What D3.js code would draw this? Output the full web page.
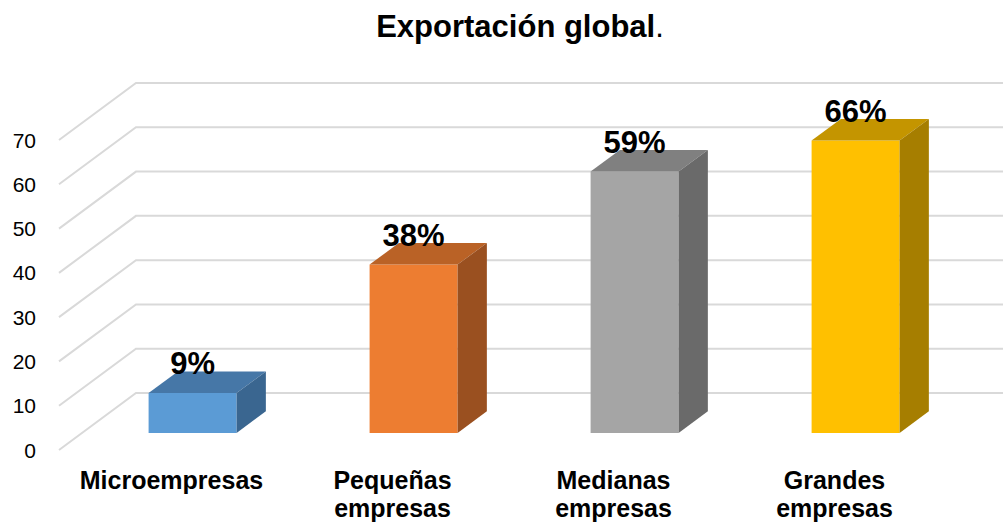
<!DOCTYPE html>
<html>
<head>
<meta charset="utf-8">
<script src="https://cdn.jsdelivr.net/npm/d3@7"></script>
<style>
  body { margin: 0; background: #fff; }
  svg { display: block; font-family: "Liberation Sans", Arial, sans-serif; }
</style>
</head>
<body>
<svg id="chart" width="1003" height="523"></svg>
<script>
const categories = [["Microempresas"], ["Pequeñas", "empresas"], ["Medianas", "empresas"], ["Grandes", "empresas"]];
const values = [9, 38, 59, 66];
const valueLabels = ["9%", "38%", "59%", "66%"];
const yTicks = [0, 10, 20, 30, 40, 50, 60, 70];
const frontColors = ["#5B9BD5", "#ED7D31", "#A5A5A5", "#FFC000"];
const topColors = ["#4677A7", "#BA6226", "#808080", "#C49500"];
const sideColors = ["#3A6690", "#9A5020", "#6A6A6A", "#A67E00"];

const svg = d3.select("#chart");
const width = 1003;

// depth direction of the 3D box
const depth = { dx: 77, dy: -57 };
const barFront = 0.3, barBack = 0.68;

const x = d3.scaleBand()
  .domain(d3.range(values.length))
  .range([59, 943])
  .paddingInner(0)
  .paddingOuter(0);

const y = d3.scaleLinear()
  .domain([0, 70])
  .range([450, 140]);

const proj = (px, v, t) => [px + depth.dx * t, y(v) + depth.dy * t];

// gridlines: diagonal on the left wall plus back wall line
const grid = svg.append("g")
  .attr("stroke", "#d9d9d9")
  .attr("stroke-width", 2)
  .attr("fill", "none");

grid.selectAll("path")
  .data(yTicks)
  .enter()
  .append("path")
  .attr("d", v => {
    const a = proj(x.range()[0], v, 0);
    const b = proj(x.range()[0], v, 1);
    return `M${a[0]},${a[1]}L${b[0]},${b[1]}L${width},${b[1]}`;
  });

svg.append("g")
  .selectAll("text")
  .data(yTicks)
  .enter()
  .append("text")
  .attr("x", 36)
  .attr("y", v => y(v))
  .attr("dy", "0.36em")
  .attr("text-anchor", "end")
  .attr("font-size", "21px")
  .attr("fill", "#000")
  .text(v => v);

const barW = 88;

const bars = svg.append("g")
  .selectAll("g")
  .data(values)
  .enter()
  .append("g");

const corners = (v, i) => {
  const left = x(i) + x.bandwidth() / 2 - barW / 2;
  const right = left + barW;
  return {
    fl0: proj(left, 0, barFront), fr0: proj(right, 0, barFront),
    flv: proj(left, v, barFront), frv: proj(right, v, barFront),
    blv: proj(left, v, barBack), brv: proj(right, v, barBack),
    br0: proj(right, 0, barBack)
  };
};

const poly = pts => "M" + pts.map(p => p.join(",")).join("L") + "Z";

bars.append("path")
  .attr("d", (v, i) => { const c = corners(v, i); return poly([c.fl0, c.fr0, c.frv, c.flv]); })
  .attr("fill", (v, i) => frontColors[i]);

bars.append("path")
  .attr("d", (v, i) => { const c = corners(v, i); return poly([c.flv, c.frv, c.brv, c.blv]); })
  .attr("fill", (v, i) => topColors[i]);

bars.append("path")
  .attr("d", (v, i) => { const c = corners(v, i); return poly([c.fr0, c.br0, c.brv, c.frv]); })
  .attr("fill", (v, i) => sideColors[i]);

bars.append("text")
  .attr("x", (v, i) => proj(x(i) + x.bandwidth() / 2, v, barFront)[0])
  .attr("y", (v, i) => proj(x(i) + x.bandwidth() / 2, v, barFront)[1] - 19)
  .attr("text-anchor", "middle")
  .attr("font-size", "31px")
  .attr("font-weight", "bold")
  .attr("fill", "#000")
  .text((v, i) => valueLabels[i]);

// category labels
const cat = svg.append("g")
  .selectAll("text")
  .data(categories)
  .enter()
  .append("text")
  .attr("x", (d, i) => x(i) + x.bandwidth() / 2 + 2)
  .attr("y", 489)
  .attr("text-anchor", "middle")
  .attr("font-size", "25px")
  .attr("font-weight", "bold")
  .attr("fill", "#000");

cat.selectAll("tspan")
  .data(d => d)
  .enter()
  .append("tspan")
  .attr("x", function () { return this.parentNode.getAttribute("x"); })
  .attr("dy", (d, j) => j === 0 ? 0 : 28)
  .text(d => d);

const title = svg.append("text")
  .attr("x", 520)
  .attr("y", 37)
  .attr("text-anchor", "middle")
  .attr("font-size", "31px")
  .attr("fill", "#000");

title.append("tspan").attr("font-weight", "bold").text("Exportación global");
title.append("tspan").text(".");
</script>
</body>
</html>
